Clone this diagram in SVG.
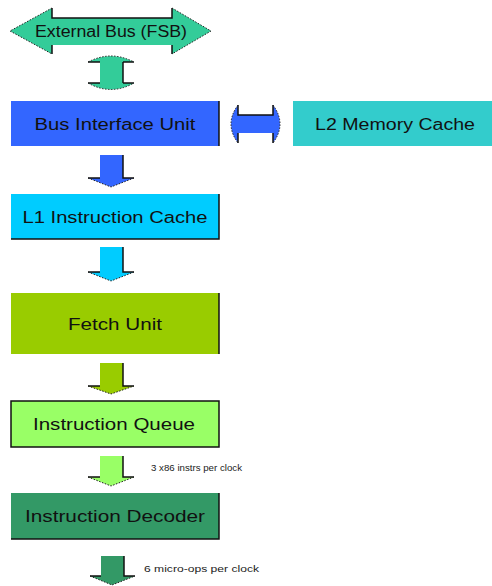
<svg xmlns="http://www.w3.org/2000/svg" width="492" height="586" viewBox="0 0 492 586">
  <style>
    .lbl { font-family: "Liberation Sans", Arial, sans-serif; font-size: 16px; fill: #111; text-anchor: middle; }
    .note { font-family: "Liberation Sans", Arial, sans-serif; font-size: 9px; fill: #222; }
    .edge { fill: none; stroke: #111; stroke-width: 1.5; }
    .dots { fill: none; stroke: #222; stroke-width: 1; stroke-dasharray: 1.5 1.5; }
  </style>
  <rect width="492" height="586" fill="#ffffff"/>

  <!-- connectors -->
  <g id="connectors">
    <!-- external bus double arrow -->
    <g id="fsb-arrow">
      <polygon points="10,31 52,8 52,18 172,18 172,8 211,31 172,54 172,45 52,45 52,54" fill="#33CC99"/>
      <polyline class="edge" points="52,8 52,18 172,18 172,8"/>
      <line class="edge" x1="52" y1="45" x2="52" y2="54"/>
      <line class="edge" x1="172" y1="45" x2="172" y2="54"/>
      <polyline class="dots" points="52,8 10,31 52,54"/>
      <polyline class="dots" points="172,8 211,31 172,54"/>
    </g>
    <!-- FSB to bus interface (vertical double arrow) -->
    <g id="fsb-biu">
      <path d="M88,62 Q111,50 134,62 L123,62 L123,83 L134,83 Q111,96 88,83 L100,83 L100,62 Z" fill="#33CC99"/>
      <line class="edge" x1="88" y1="62" x2="100" y2="62"/>
      <polyline class="edge" points="123,62 134,62"/>
      <line class="edge" x1="123" y1="62" x2="123" y2="83"/>
      <line class="edge" x1="88" y1="83" x2="100" y2="83"/>
      <line class="edge" x1="123" y1="83" x2="134" y2="83"/>
      <path class="dots" d="M88,62 Q111,50 134,62"/>
      <path class="dots" d="M88,83 Q111,96 134,83"/>
    </g>
    <!-- bus interface to L2 (horizontal double arrow) -->
    <g id="biu-l2">
      <path d="M238,105 Q224,124 238,143 L238,133 L273,133 L273,143 Q287,124 273,105 L273,115 L238,115 Z" fill="#3366FF"/>
      <polyline class="edge" points="238,105 238,115 273,115 273,105"/>
      <line class="edge" x1="238" y1="133" x2="238" y2="143"/>
      <line class="edge" x1="273" y1="133" x2="273" y2="143"/>
      <path class="dots" d="M238,105 Q224,124 238,143"/>
      <path class="dots" d="M273,105 Q287,124 273,143"/>
    </g>
    <!-- down arrows -->
    <g id="biu-l1">
      <polygon points="100,155 123,155 123,178 134,178 111,187 88,178 100,178" fill="#3366FF"/>
      <polyline class="edge" points="123,155 123,178 134,178"/>
      <line class="edge" x1="88" y1="178" x2="100" y2="178"/>
      <polyline class="dots" points="88,178 111,187 134,178"/>
    </g>
    <g id="l1-fetch">
      <polygon points="100,247 123,247 123,272 134,272 111,281 88,272 100,272" fill="#00CCFF"/>
      <polyline class="edge" points="123,247 123,272 134,272"/>
      <line class="edge" x1="88" y1="272" x2="100" y2="272"/>
      <polyline class="dots" points="88,272 111,281 134,272"/>
    </g>
    <g id="fetch-queue">
      <polygon points="100,363 123,363 123,386 134,386 111,394 88,386 100,386" fill="#99CC00"/>
      <polyline class="edge" points="123,363 123,386 134,386"/>
      <line class="edge" x1="88" y1="386" x2="100" y2="386"/>
      <polyline class="dots" points="88,386 111,394 134,386"/>
    </g>
    <g id="queue-decoder">
      <polygon points="100,456 123,456 123,477 134,477 111,486 88,477 100,477" fill="#99FF66"/>
      <polyline class="edge" points="123,456 123,477 134,477"/>
      <line class="edge" x1="88" y1="477" x2="100" y2="477"/>
      <polyline class="dots" points="88,477 111,486 134,477"/>
      <text class="note" x="151" y="471" textLength="91" lengthAdjust="spacingAndGlyphs">3 x86 instrs per clock</text>
    </g>
    <g id="decoder-out">
      <polygon points="101,556 124,556 124,576 135,576 112,585 90,576 101,576" fill="#339966"/>
      <polyline class="edge" points="124,556 124,576 135,576"/>
      <line class="edge" x1="90" y1="576" x2="101" y2="576"/>
      <polyline class="dots" points="90,576 112,585 135,576"/>
      <text class="note" x="144" y="572" textLength="115" lengthAdjust="spacingAndGlyphs">6 micro-ops per clock</text>
    </g>
  </g>

  <!-- external bus label -->
  <g id="fsb">
    <text class="lbl" x="111" y="37" textLength="152" lengthAdjust="spacingAndGlyphs">External Bus (FSB)</text>
  </g>

  <!-- nodes -->
  <g id="bus-interface-unit">
    <rect x="11" y="101" width="208" height="45" fill="#3366FF"/>
    <line class="edge" x1="219" y1="101" x2="219" y2="146"/>
    <text class="lbl" x="115" y="130" textLength="161" lengthAdjust="spacingAndGlyphs">Bus Interface Unit</text>
  </g>
  <g id="l2-memory-cache">
    <rect x="293" y="101" width="199" height="45" fill="#33CCCC"/>
    <text class="lbl" x="395" y="130" textLength="160" lengthAdjust="spacingAndGlyphs">L2 Memory Cache</text>
  </g>
  <g id="l1-instruction-cache">
    <rect x="11" y="194" width="208" height="45" fill="#00CCFF"/>
    <polyline class="edge" points="11,239 219,239 219,194"/>
    <text class="lbl" x="115" y="223" textLength="185" lengthAdjust="spacingAndGlyphs">L1 Instruction Cache</text>
  </g>
  <g id="fetch-unit">
    <rect x="11" y="293" width="208" height="61" fill="#99CC00"/>
    <line class="edge" x1="219" y1="293" x2="219" y2="354"/>
    <text class="lbl" x="115" y="330" textLength="94" lengthAdjust="spacingAndGlyphs">Fetch Unit</text>
  </g>
  <g id="instruction-queue">
    <rect x="11" y="401" width="208" height="46" fill="#99FF66" stroke="#111" stroke-width="1.5"/>
    <text class="lbl" x="114" y="430" textLength="162" lengthAdjust="spacingAndGlyphs">Instruction Queue</text>
  </g>
  <g id="instruction-decoder">
    <rect x="11" y="493" width="208" height="46" fill="#339966"/>
    <polyline class="edge" points="11,539 219,539 219,493"/>
    <text class="lbl" x="115" y="522" textLength="180" lengthAdjust="spacingAndGlyphs">Instruction Decoder</text>
  </g>
</svg>
